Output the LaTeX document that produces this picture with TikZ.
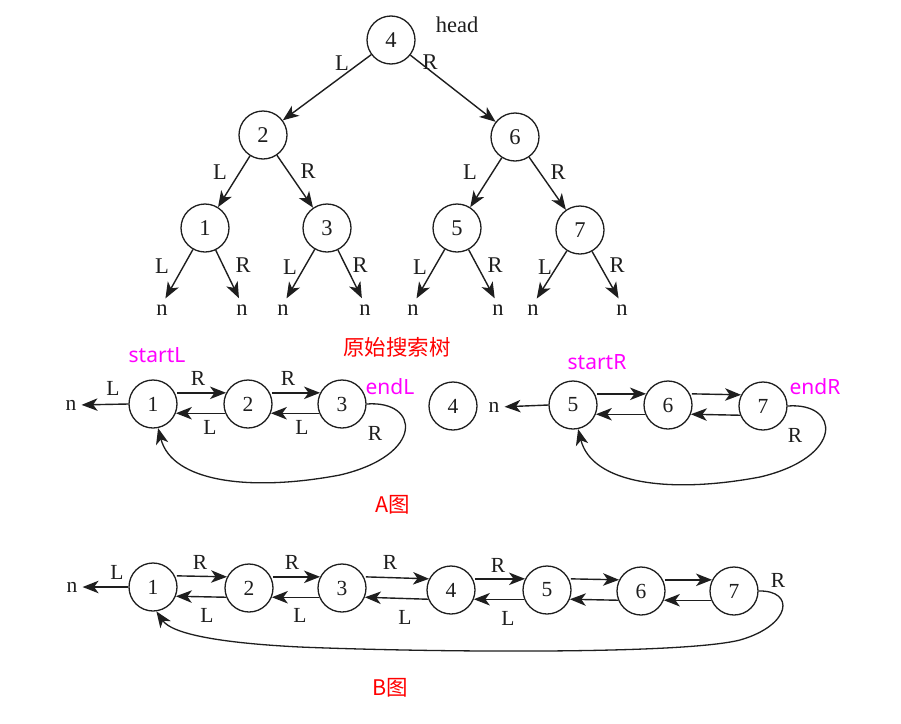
\documentclass[tikz,border=0pt]{standalone}
\usepackage{fontspec}
\setmainfont{Liberation Serif}
\newfontfamily\magfont{Noto Sans}
\newfontfamily\cjkfont{Noto Sans CJK SC}
\usetikzlibrary{arrows.meta}
\definecolor{ink}{HTML}{1E1E1E}
\definecolor{mag}{HTML}{FF00FF}
\definecolor{redlab}{HTML}{FF0000}
\begin{document}
\begin{tikzpicture}[x=1pt,y=-1pt,
  nd/.style={circle,draw=ink,line width=1.3pt,minimum size=48pt,inner sep=0pt,font=\fontsize{21.5}{24}\selectfont,text=ink},
  tnd/.style={nd,font=\fontsize{22.5}{26}\selectfont},
  lab/.style={inner sep=0pt,font=\fontsize{21.5}{24}\selectfont,text=ink},
  tlab/.style={lab,font=\fontsize{22.5}{26}\selectfont},
  arr/.style={draw=ink,line width=1.4pt,-{Stealth[length=16pt,width=12.5pt,inset=4.5pt]}},
  loop/.style={draw=ink,line width=1.3pt,-{Stealth[length=16pt,width=12.5pt,inset=4.5pt]}},
  maglab/.style={inner sep=0pt,font=\magfont\fontsize{21}{24}\selectfont,text=mag},
  redl/.style={inner sep=0pt,font=\cjkfont\fontsize{21.5}{24}\selectfont,text=redlab},
]
\useasboundingbox[fill=white] (0,0) rectangle (901,723);

% ---------------- tree ----------------
\node[tnd] (t4) at (391,40) {4};
\node[tnd] (t2) at (263,135) {2};
\node[tnd] (t6) at (515,137) {6};
\node[tnd] (t1) at (205,228) {1};
\node[tnd] (t3) at (327,228) {3};
\node[tnd] (t5) at (457,228) {5};
\node[tnd] (t7) at (580,230) {7};
\node[tlab] (head) at (457,25) {head};

\foreach \i/\x in {a/162,b/242,c/283,d/365,e/413,f/498,g/533,h/622}
  \node[tlab] (n\i) at (\x,310) {n};

\draw[arr] (t4) -- (t2);
\draw[arr] (t4) -- (t6);
\draw[arr] (t2) -- (t1);
\draw[arr] (t2) -- (t3);
\draw[arr] (t6) -- (t5);
\draw[arr] (t6) -- (t7);
\draw[arr,shorten >=7pt] (t1) -- (na.north);
\draw[arr,shorten >=7pt] (t1) -- (nb.north);
\draw[arr,shorten >=7pt] (t3) -- (nc.north);
\draw[arr,shorten >=7pt] (t3) -- (nd.north);
\draw[arr,shorten >=7pt] (t5) -- (ne.north);
\draw[arr,shorten >=7pt] (t5) -- (nf.north);
\draw[arr,shorten >=7pt] (t7) -- (ng.north);
\draw[arr,shorten >=7pt] (t7) -- (nh.north);

\node[tlab] (l4) at (342,63) {L};
\node[tlab] (r4) at (430,62) {R};
\node[tlab] (l2) at (220,172) {L};
\node[tlab] (r2) at (308,171) {R};
\node[tlab] (l6) at (470,172) {L};
\node[tlab] (r6) at (558,172) {R};
\node[tlab] (l1) at (162,266) {L};
\node[tlab] (r1) at (243,265) {R};
\node[tlab] (l3) at (290,267) {L};
\node[tlab] (r3) at (360,265) {R};
\node[tlab] (l5) at (420,267) {L};
\node[tlab] (r5) at (495,265) {R};
\node[tlab] (l7) at (545,267) {L};
\node[tlab] (r7) at (617,265) {R};

\node[redl] (title0) at (397,347) {原始搜索树};

% ---------------- A ----------------
\node[nd] (a1) at (153,404) {1};
\node[nd] (a2) at (248,404) {2};
\node[nd] (a3) at (342,404) {3};
\node[nd] (a4) at (453,406) {4};
\node[nd] (a5) at (573,405) {5};
\node[nd] (a6) at (668,405) {6};
\node[nd] (a7) at (763,406) {7};
\node[lab] (nA) at (71,405) {n};
\node[lab] (nA2) at (494,407) {n};

\draw[arr,shorten >=5pt] (a1.west) -- (nA.east);
\draw[arr,shorten <=2pt] (a1.27) -- (a2.153);
\draw[arr] (a2.-158) -- (a1.-22);
\draw[arr,shorten <=2pt] (a2.27) -- (a3.153);
\draw[arr] (a3.-158) -- (a2.-22);
\draw[loop] (a3.east) .. controls (420,400) and (425,455) .. (340,475)
  .. controls (250,492) and (172,482) .. (a1.-78);

\draw[arr,shorten >=5pt] (a5.west) -- (nA2.east);
\draw[arr,shorten <=2pt] (a5.27) -- (a6.153);
\draw[arr] (a6.-158) -- (a5.-22);
\draw[arr,shorten <=2pt] (a6.27) -- (a7.153);
\draw[arr] (a7.-158) -- (a6.-22);
\draw[loop] (a7.east) .. controls (840,402) and (845,457) .. (760,477)
  .. controls (670,494) and (592,484) .. (a5.-78);

\node[lab] (aL0) at (113,388) {L};
\node[lab] (aR1) at (198,378) {R};
\node[lab] (aR2) at (288,378) {R};
\node[lab] (aL1) at (210,427) {L};
\node[lab] (aL2) at (302,427) {L};
\node[lab] (aR3) at (375,433) {R};
\node[lab] (aR7) at (795,435) {R};
\node[maglab] (startL) at (157,355) {startL};
\node[maglab] (endL) at (390,387) {endL};
\node[maglab] (startR) at (597,362) {startR};
\node[maglab] (endR) at (815,387) {endR};
\node[redl] (titleA) at (393,505) {A图};

% ---------------- B ----------------
\node[nd] (b1) at (153,587) {1};
\node[nd] (b2) at (249,588) {2};
\node[nd] (b3) at (342,588) {3};
\node[nd] (b4) at (451,590) {4};
\node[nd] (b5) at (547,590) {5};
\node[nd] (b6) at (641,591) {6};
\node[nd] (b7) at (734,591) {7};
\node[lab] (nB) at (72,587) {n};

\draw[arr,shorten >=5pt] (b1.west) -- (nB.east);
\draw[arr,shorten <=2pt] (b1.27) -- (b2.153);
\draw[arr] (b2.-158) -- (b1.-22);
\draw[arr,shorten <=2pt] (b2.27) -- (b3.153);
\draw[arr] (b3.-158) -- (b2.-22);
\draw[arr,shorten <=2pt] (b3.27) -- (b4.153);
\draw[arr] (b4.-158) -- (b3.-22);
\draw[arr,shorten <=2pt] (b4.27) -- (b5.153);
\draw[arr] (b5.-158) -- (b4.-22);
\draw[arr,shorten <=2pt] (b5.27) -- (b6.153);
\draw[arr] (b6.-158) -- (b5.-22);
\draw[arr,shorten <=2pt] (b6.27) -- (b7.153);
\draw[arr] (b7.-158) -- (b6.-22);
\draw[loop] (b7.east) .. controls (795,590) and (792,625) .. (740,640)
  .. controls (680,655) and (420,652) .. (300,647)
  .. controls (220,643) and (172,634) .. (b1.-82);

\node[lab] (bL0) at (117,572) {L};
\node[lab] (bR1) at (200,562) {R};
\node[lab] (bR2) at (292,562) {R};
\node[lab] (bR3) at (390,562) {R};
\node[lab] (bR4) at (498,565) {R};
\node[lab] (bL1) at (207,615) {L};
\node[lab] (bL2) at (300,615) {L};
\node[lab] (bL3) at (405,617) {L};
\node[lab] (bL4) at (508,618) {L};
\node[lab] (bR7) at (778,580) {R};
\node[redl] (titleB) at (390,688) {B图};
\end{tikzpicture}
\end{document}
